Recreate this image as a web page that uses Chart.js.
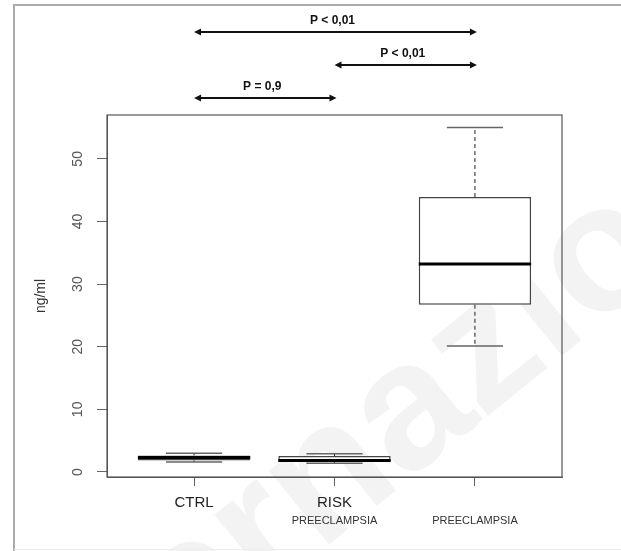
<!DOCTYPE html>
<html>
<head>
<meta charset="utf-8">
<title>ng/ml</title>
<script src="https://cdn.jsdelivr.net/npm/chart.js@4"></script>
<style>
  body { margin: 0; background: #fff; }
  canvas { display: block; }
</style>
</head>
<body>
<canvas id="chart" width="621" height="551"></canvas>
<script>
// group names (main line) and second line under them
var groups = ["CTRL", "RISK", ""];
var subLabels = ["", "PREECLAMPSIA", "PREECLAMPSIA"];
var positions = [1, 2, 3];

// five-number summaries, ng/ml
var whiskerLow = [1.6, 1.4, 20.1];
var q1 = [1.85, 1.6, 26.7];
var median = [2.3, 1.85, 33.2];
var q3 = [2.65, 2.55, 43.9];
var whiskerHigh = [3.0, 2.9, 55.0];

var yTicks = [0, 10, 20, 30, 40, 50];

// significance arrows, top row first
var comparisons = [
    { from: 1, to: 3, label: "P < 0,01" },
    { from: 2, to: 3, label: "P < 0,01" },
    { from: 1, to: 2, label: "P = 0,9" }
];

var FONT = "'Liberation Sans', Arial, Helvetica, sans-serif";

var boxPlotExtras = {
    id: "boxPlotExtras",
    beforeDraw: function (chart) {
        var ctx = chart.ctx;
        ctx.save();
        // faint watermark behind everything
        ctx.translate(16, 798);
        ctx.rotate(-39 * Math.PI / 180);
        ctx.font = "bold 180px " + FONT;
        ctx.fillStyle = "#f3f3f3";
        ctx.textBaseline = "alphabetic";
        ctx.fillText("internazionale", 0, 0);
        ctx.restore();

        // page frame
        ctx.save();
        ctx.strokeStyle = "#ababab";
        ctx.lineWidth = 2;
        ctx.beginPath();
        ctx.moveTo(14, 551);
        ctx.lineTo(14, 5);
        ctx.lineTo(621, 5);
        ctx.stroke();
        ctx.strokeStyle = "#ececec";
        ctx.lineWidth = 1;
        ctx.beginPath();
        ctx.moveTo(14, 549.5);
        ctx.lineTo(621, 549.5);
        ctx.stroke();
        ctx.restore();
    },
    afterDatasetsDraw: function (chart) {
        var ctx = chart.ctx;
        var xs = chart.scales.x;
        var ys = chart.scales.y;
        var bars = chart.getDatasetMeta(0).data;
        ctx.save();
        for (var i = 0; i < positions.length; i++) {
            var cx = xs.getPixelForValue(positions[i]);
            var half = bars[i].width / 2;
            var capHalf = half / 2;

            // whiskers
            ctx.strokeStyle = "#222";
            ctx.lineWidth = 1;
            ctx.setLineDash([4, 3]);
            ctx.beginPath();
            ctx.moveTo(cx, ys.getPixelForValue(q3[i]));
            ctx.lineTo(cx, ys.getPixelForValue(whiskerHigh[i]));
            ctx.moveTo(cx, ys.getPixelForValue(q1[i]));
            ctx.lineTo(cx, ys.getPixelForValue(whiskerLow[i]));
            ctx.stroke();
            ctx.setLineDash([]);

            // staples
            ctx.strokeStyle = "#666";
            ctx.lineWidth = 1.5;
            ctx.beginPath();
            ctx.moveTo(cx - capHalf, ys.getPixelForValue(whiskerHigh[i]));
            ctx.lineTo(cx + capHalf, ys.getPixelForValue(whiskerHigh[i]));
            ctx.moveTo(cx - capHalf, ys.getPixelForValue(whiskerLow[i]));
            ctx.lineTo(cx + capHalf, ys.getPixelForValue(whiskerLow[i]));
            ctx.stroke();

            // median
            ctx.strokeStyle = "#000";
            ctx.lineWidth = 3;
            ctx.beginPath();
            ctx.moveTo(cx - half, ys.getPixelForValue(median[i]));
            ctx.lineTo(cx + half, ys.getPixelForValue(median[i]));
            ctx.stroke();
        }
        ctx.restore();
    },
    afterDraw: function (chart) {
        var ctx = chart.ctx;
        var area = chart.chartArea;
        var xs = chart.scales.x;
        ctx.save();
        // plot box
        ctx.strokeStyle = "#555";
        ctx.lineWidth = 1.2;
        ctx.strokeRect(area.left, area.top, area.right - area.left, area.bottom - area.top);

        // arrows with p-values
        var rowY = [32, 65, 98];
        ctx.fillStyle = "#111";
        ctx.strokeStyle = "#111";
        ctx.font = "bold 12px " + FONT;
        ctx.textAlign = "center";
        ctx.textBaseline = "middle";
        comparisons.forEach(function (c, k) {
            var x1 = xs.getPixelForValue(c.from);
            var x2 = xs.getPixelForValue(c.to) + 2;
            var y = rowY[k];
            ctx.lineWidth = 2;
            ctx.beginPath();
            ctx.moveTo(x1 + 4, y);
            ctx.lineTo(x2 - 4, y);
            ctx.stroke();
            ctx.beginPath();
            ctx.moveTo(x1, y);
            ctx.lineTo(x1 + 7, y - 3.5);
            ctx.lineTo(x1 + 7, y + 3.5);
            ctx.closePath();
            ctx.moveTo(x2, y);
            ctx.lineTo(x2 - 7, y - 3.5);
            ctx.lineTo(x2 - 7, y + 3.5);
            ctx.closePath();
            ctx.fill();
            ctx.fillText(c.label, (x1 + x2) / 2 - 3, y - 11);
        });
        ctx.restore();
    }
};

function setCategoryTicks(scale) {
    scale.ticks = positions.map(function (v) { return { value: v }; });
}

new Chart(document.getElementById("chart"), {
    type: "bar",
    data: {
        datasets: [
            {
                data: positions.map(function (p, i) {
                    return { x: p, y: [q1[i], q3[i]] };
                }),
                backgroundColor: "#ffffff",
                borderColor: "#444",
                borderWidth: 1.5,
                borderSkipped: false,
                barPercentage: 0.8,
                categoryPercentage: 1.0
            }
        ]
    },
    options: {
        responsive: false,
        animation: false,
        layout: { padding: { left: 0, top: 115, right: 59, bottom: 0 } },
        plugins: {
            legend: { display: false },
            tooltip: { enabled: false }
        },
        scales: {
            x: {
                type: "linear",
                position: "bottom",
                offset: false,
                min: 0.38,
                max: 3.62,
                afterBuildTicks: setCategoryTicks,
                afterFit: function (scale) { scale.height = 34; },
                grid: { offset: false, drawOnChartArea: false, tickLength: 9, color: "#666" },
                border: { display: true, color: "#555" },
                ticks: {
                    autoSkip: false,
                    maxRotation: 0,
                    padding: 8,
                    color: "#222",
                    font: { family: FONT, size: 15 },
                    callback: function (value, index) { return groups[index]; }
                }
            },
            x2: {
                type: "linear",
                position: "bottom",
                offset: false,
                min: 0.38,
                max: 3.62,
                afterBuildTicks: setCategoryTicks,
                afterFit: function (scale) { scale.height = 40; },
                grid: { display: false, drawTicks: false, offset: false },
                border: { display: false },
                ticks: {
                    autoSkip: false,
                    maxRotation: 0,
                    padding: 3,
                    color: "#333",
                    font: { family: FONT, size: 11 },
                    callback: function (value, index) { return subLabels[index]; }
                }
            },
            y: {
                min: -0.8,
                max: 57,
                afterBuildTicks: function (scale) {
                    scale.ticks = yTicks.map(function (v) { return { value: v }; });
                },
                afterFit: function (scale) { scale.width = 107; },
                grid: { drawOnChartArea: false, tickLength: 10, color: "#666" },
                border: { display: true, color: "#555" },
                ticks: {
                    minRotation: 90,
                    maxRotation: 90,
                    crossAlign: "center",
                    padding: 11,
                    color: "#555",
                    font: { family: FONT, size: 14 }
                },
                title: {
                    display: true,
                    text: "ng/ml",
                    padding: { top: 33, bottom: 0 },
                    color: "#333",
                    font: { family: FONT, size: 14 }
                }
            }
        }
    },
    plugins: [boxPlotExtras]
});
</script>
</body>
</html>
